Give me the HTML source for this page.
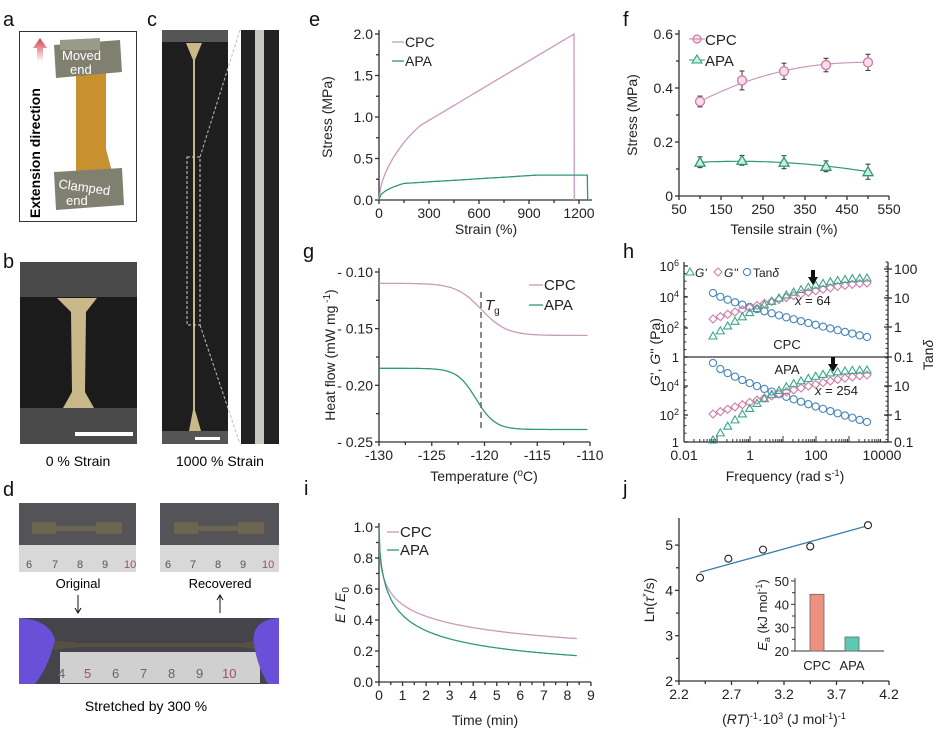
<!DOCTYPE html>
<html><head><meta charset="utf-8">
<style>
html,body{margin:0;padding:0;background:#fff;}
svg{display:block;font-family:"Liberation Sans",Arial,sans-serif;}
</style></head>
<body>
<svg id="s" width="944" height="732" viewBox="0 0 944 732" xmlns="http://www.w3.org/2000/svg">
<defs>
<linearGradient id="arr" x1="0" y1="1" x2="0" y2="0"><stop offset="0" stop-color="#fff"/><stop offset="1" stop-color="#d8404a"/></linearGradient>
<linearGradient id="bar" x1="0" y1="0" x2="1" y2="0"><stop offset="0" stop-color="#b8862a"/><stop offset="0.5" stop-color="#d9a040"/><stop offset="1" stop-color="#c08a30"/></linearGradient>
</defs>
<rect width="944" height="732" fill="#fff"/>
<g font-size="20" fill="#111">
<text x="3" y="26">a</text><text x="3" y="268">b</text><text x="147" y="26">c</text><text x="3" y="496">d</text>
<text x="309" y="26">e</text><text x="623" y="26">f</text><text x="303" y="258">g</text><text x="623" y="258">h</text>
<text x="304" y="495">i</text><text x="623" y="495">j</text>
</g>
<!-- panel a -->
<rect x="19.5" y="31.5" width="117" height="190" fill="#fff" stroke="#333"/>
<polygon points="40,38 47,48 43,48 43,62 37,62 37,48 33,48" fill="url(#arr)"/>
<text transform="translate(40,218) rotate(-90)" font-size="14" font-weight="bold">Extension direction</text>
<polygon points="78,72 104,172 112,172 86,72" fill="url(#bar)"/>
<rect x="76" y="72" width="30" height="110" fill="#c8902e"/>
<polygon points="54,45 120,40 122,72 56,78" fill="#808070"/>
<polygon points="60,40 100,38 100,50 60,50" fill="#9a9a88"/>
<polygon points="54,172 122,168 124,205 56,210" fill="#808070"/>
<text x="62" y="60" font-size="13" fill="#fff">Moved</text><text x="70" y="74" font-size="13" fill="#fff">end</text>
<text x="58" y="188" font-size="13" fill="#fff" transform="rotate(8 58 188)">Clamped</text><text x="66" y="205" font-size="13" fill="#fff">end</text>
<!-- panel b -->
<rect x="20" y="262" width="117" height="182" fill="#4a4a4a"/>
<rect x="20" y="297" width="117" height="111" fill="#1b1b1b"/>
<path d="M57,298 L97,298 L86,312 L85,392 L94,408 L63,408 L72,392 L71,312 Z" fill="#c8b88a"/>
<rect x="75" y="432" width="58" height="4" fill="#fff"/>
<text x="78" y="466" font-size="14" text-anchor="middle">0 % Strain</text>
<!-- panel c -->
<rect x="162" y="30" width="66" height="414" fill="#1e1e1e"/>
<rect x="162" y="30" width="66" height="12" fill="#555"/>
<rect x="162" y="431" width="66" height="13" fill="#555"/>
<path d="M186,43 L202,43 L195,60 L195,410 L201,431 L189,431 L193,410 L193,60 Z" fill="#c8b88a"/>
<rect x="187" y="157" width="13" height="168" fill="none" stroke="#ccc" stroke-dasharray="3,2"/>
<line x1="200" y1="157" x2="240" y2="30" stroke="#bbb" stroke-dasharray="3,2"/>
<line x1="200" y1="325" x2="240" y2="444" stroke="#bbb" stroke-dasharray="3,2"/>
<rect x="195" y="437" width="25" height="3" fill="#fff"/>
<rect x="241" y="30" width="38" height="414" fill="#222"/>
<rect x="255" y="30" width="9" height="414" fill="#c8c8c0"/>
<text x="220" y="466" font-size="14" text-anchor="middle">1000 % Strain</text>
<!-- panel d -->
<rect x="19" y="503" width="117" height="42" fill="#545458"/><rect x="19" y="545" width="117" height="27" fill="#d8d8d8"/>
<rect x="32" y="522" width="24" height="12" fill="#6b6550"/><rect x="56" y="526" width="40" height="5" fill="#6b6550"/><rect x="96" y="522" width="26" height="12" fill="#6b6550"/>
<rect x="160" y="503" width="119" height="42" fill="#545458"/><rect x="160" y="545" width="119" height="27" fill="#d8d8d8"/>
<rect x="174" y="522" width="24" height="12" fill="#6b6550"/><rect x="198" y="526" width="40" height="5" fill="#6b6550"/><rect x="238" y="522" width="26" height="12" fill="#6b6550"/>
<g font-size="11" fill="#555"><text x="26" y="568">6</text><text x="52" y="568">7</text><text x="77" y="568">8</text><text x="102" y="568">9</text><text x="124" y="568" fill="#a05060">10</text>
<text x="165" y="568">6</text><text x="190" y="568">7</text><text x="215" y="568">8</text><text x="240" y="568">9</text><text x="262" y="568" fill="#a05060">10</text></g>
<text x="78" y="588" font-size="13" text-anchor="middle">Original</text>
<text x="220" y="588" font-size="13" text-anchor="middle">Recovered</text>
<line x1="78" y1="595" x2="78" y2="612" stroke="#111"/><polyline points="75,608 78,613 81,608" fill="none" stroke="#111"/>
<line x1="220" y1="596" x2="220" y2="613" stroke="#111"/><polyline points="217,600 220,595 223,600" fill="none" stroke="#111"/>
<rect x="19" y="618" width="260" height="66" fill="#44444a"/>
<rect x="60" y="652" width="200" height="31" fill="#d0d0d0"/>
<path d="M50,640 L80,643 L240,643 L265,640 L265,650 L240,647 L80,647 L50,650 Z" fill="#555040"/>
<path d="M19,618 Q50,620 55,640 Q48,668 35,684 L19,684 Z" fill="#6a4fd8"/>
<path d="M279,618 Q250,620 254,645 Q258,668 268,684 L279,684 Z" fill="#6a4fd8"/>
<g font-size="13" fill="#666"><text x="58" y="678">4</text><text x="84" y="678" fill="#a05060">5</text><text x="112" y="678">6</text><text x="140" y="678">7</text><text x="168" y="678">8</text><text x="196" y="678">9</text><text x="222" y="678" fill="#a05060">10</text></g>
<text x="146" y="711" font-size="14" text-anchor="middle">Stretched by 300 %</text>
<g id="plots" font-size="14" fill="#222"></g>
</svg>
<script>
const g=document.getElementById('plots');let h='';
const L=(pts,c,w=1.2,extra='')=>`<polyline points="${pts.map(p=>p[0].toFixed(1)+','+p[1].toFixed(1)).join(' ')}" fill="none" stroke="${c}" stroke-width="${w}" ${extra}/>`;
const T=(x,y,s,a='middle',sz=14,ex='')=>`<text x="${x}" y="${y}" text-anchor="${a}" font-size="${sz}" ${ex}>${s}</text>`;
const ln=(a,b,c,d,col='#333',w=1.3)=>`<line x1="${a}" y1="${b}" x2="${c}" y2="${d}" stroke="${col}" stroke-width="${w}"/>`;
const PINK='#c99abd',GRN='#2f9977';
function axes(x0,x1,y0,y1,xt,yt,minorX,minorY){
  h+=ln(x0,y1-4,x0,y0)+ln(x0,y0,x1,y0);
  xt.forEach(t=>{h+=ln(t[0],y0,t[0],y0+4);h+=T(t[0],y0+18,t[1]);});
  yt.forEach(t=>{h+=ln(x0-4,t[0],x0,t[0]);h+=T(x0-6,t[0]+5,t[1],'end');});
  (minorX||[]).forEach(x=>h+=ln(x,y0,x,y0+3));
  (minorY||[]).forEach(y=>h+=ln(x0-3,y,x0,y));
}
// ---- e
{const X=v=>379+v*200/1200,Y=v=>200-v*83;
axes(379,592,200,34,[0,300,600,900,1200].map(v=>[X(v),v]),[0,.5,1,1.5,2].map(v=>[Y(v),v.toFixed(1)]),[150,450,750,1050].map(X),[.25,.75,1.25,1.75].map(Y));
h+=T(486,234,'Strain (%)');h+=`<text transform="translate(332,117) rotate(-90)" text-anchor="middle">Stress (MPa)</text>`;
let c=[],a=[];for(let s=0;s<=1170;s+=10){let v=s<250?0.9*Math.pow(s/250,0.55)*(1+0.08*(1-s/250)*s/250):0.9+(s-250)*1.1/920;c.push([X(s),Y(v)]);}
c.push([X(1172),Y(0)]);
for(let s=0;s<=1250;s+=10){let v=s<150?0.2*Math.pow(s/150,0.45):0.2+(s-150)*0.1/800;if(v>0.3)v=0.3;a.push([X(s),Y(v)]);}a.push([X(1252),Y(0)]);
h+=L(c,PINK,1.3)+L(a,GRN,1.3);
h+=ln(392,42,404,42,PINK)+T(405,47,'CPC','start')+ln(392,61,404,61,GRN)+T(405,66,'APA','start');}
// ---- f
{const X=v=>679+(v-50)*0.42,Y=v=>196-v*270;
axes(679,889,196,34,[50,150,250,350,450,550].map(v=>[X(v),v]),[[Y(0),'0'],[Y(.2),'0.2'],[Y(.4),'0.4'],[Y(.6),'0.6']],[100,200,300,400,500].map(X),[.1,.3,.5].map(Y));
h+=T(784,234,'Tensile strain (%)');h+=`<text transform="translate(637,115) rotate(-90)" text-anchor="middle">Stress (MPa)</text>`;
const xs=[100,200,300,400,500],cp=[.35,.428,.462,.485,.495],ce=[.02,.035,.03,.025,.03],ap=[.125,.132,.125,.11,.09],ae=[.02,.018,.024,.02,.028];
let cc=[],aa=[];for(let v=100;v<=500;v+=5){let t=(v-100)/400;cc.push([X(v),Y(.35+.145*(1-Math.pow(1-t,2.2)))]);aa.push([X(v),Y(.125+.03*t-.065*t*t)]);}
h+=L(cc,PINK,1.2)+L(aa,GRN,1.2);
xs.forEach((x,i)=>{[[cp[i],ce[i]],[ap[i],ae[i]]].forEach(([v,e])=>{h+=ln(X(x),Y(v-e),X(x),Y(v+e),'#333',1)+ln(X(x)-2.5,Y(v-e),X(x)+2.5,Y(v-e),'#333',1)+ln(X(x)-2.5,Y(v+e),X(x)+2.5,Y(v+e),'#333',1);});
h+=`<circle cx="${X(x)}" cy="${Y(cp[i])}" r="4.5" fill="#f6dde8" stroke="#d07aa8" stroke-width="1.3"/>`;
let px=X(x),py=Y(ap[i]);h+=`<polygon points="${px},${py-5} ${px+5},${py+4} ${px-5},${py+4}" fill="#c8efe2" stroke="#2f9977" stroke-width="1.3"/>`;});
h+=`<circle cx="697" cy="39" r="4" fill="#f6dde8" stroke="#d07aa8" stroke-width="1.2"/>`+ln(689,39,705,39,'#d07aa8',1)+T(705,45,'CPC','start',15);
h+=ln(689,60,705,60,GRN,1)+`<polygon points="697,55 702,63 692,63" fill="#c8efe2" stroke="#2f9977"/>`+T(705,66,'APA','start',15);}
// ---- g
{const X=v=>379+(v+130)*10.55;
const Yg=v=>272+(-0.10-v)*1133;
axes(379,590,442,272,[-130,-125,-120,-115,-110].map(v=>[X(v),v]),[[Yg(-.10),'- 0.10'],[Yg(-.15),'- 0.15'],[Yg(-.20),'- 0.20'],[Yg(-.25),'- 0.25']],[-127.5,-122.5,-117.5,-112.5].map(X),[-.125,-.175,-.225].map(Yg));
h+=T(484,481,'Temperature (<tspan baseline-shift="super" font-size="10">o</tspan>C)');
h+=`<text transform="translate(335,355) rotate(-90)" text-anchor="middle">Heat flow (mW mg<tspan baseline-shift="super" font-size="10"> -1</tspan>)</text>`;
let c=[],a=[];for(let t=-130;t<=-110.01;t+=0.25){let s=1/(1+Math.exp(-(t+120.3)/1.2));c.push([X(t),Yg(-.11-.046*s)]);let s2=1/(1+Math.exp(-(t+120.8)/0.9));a.push([X(t),Yg(-.185-.054*s2)]);}
h+=L(c,PINK,1.3)+L(a,GRN,1.3);
h+=`<line x1="481" y1="292" x2="481" y2="432" stroke="#666" stroke-width="1.5" stroke-dasharray="6,4"/>`;
h+=`<text x="485" y="310" font-size="15" font-style="italic">T<tspan font-size="10" font-style="normal" dy="4">g</tspan></text>`;
h+=ln(529,285,543,285,PINK)+T(544,290,'CPC','start',15)+ln(529,305,543,305,GRN)+T(544,310,'APA','start',15);}
// ---- h
{const X=lf=>684+(lf+2)*33, x0=684,x1=888;
h+=ln(x0,262,x0,442)+ln(x0,442,x1,442)+ln(x1,262,x1,442)+ln(x0,357,x1,357);
[-2,0,2,4].forEach((d,i)=>{h+=T(X(d),460,['0.01','1','100','10000'][i]);});
for(let d=-2;d<4;d++)for(let k=1;k<10;k++){let x=X(d+Math.log10(k));h+=ln(x,442,x,k==1?436:439,'#333',1);}
const lt=[[266,'10','6'],[297,'10','4'],[328,'10','2'],[357,'1',''],[386,'10','4'],[415,'10','2'],[442,'1','']];
lt.forEach(([y,b,e])=>{h+=ln(x0,y,x0+4,y);h+=`<text x="${x0-5}" y="${y+5}" text-anchor="end" font-size="13">${b}<tspan baseline-shift="super" font-size="9">${e}</tspan></text>`;});
for(let y=266;y<440;y+=7.6)h+=ln(x0,y,x0+2.5,y,'#333',1);
const rt=[[269,'100'],[298,'10'],[327,'1'],[357,'0.1'],[386,'10'],[415,'1'],[442,'0.1']];
rt.forEach(([y,s])=>{h+=ln(x1-4,y,x1+4,y);h+=T(x1+6,y+5,s,'start');});
for(let y=262;y<442;y+=4.8)h+=ln(x1,y,x1-2.5,y,'#333',1);
h+=T(785,481,'Frequency (rad s<tspan baseline-shift="super" font-size="9">-1</tspan>)');
h+=`<text transform="translate(660,352) rotate(-90)" text-anchor="middle"><tspan font-style="italic">G</tspan>', <tspan font-style="italic">G</tspan>'' (Pa)</text>`;
h+=`<text transform="translate(933,355) rotate(-90)" text-anchor="middle">Tan<tspan font-style="italic">δ</tspan></text>`;
const N=22;const tri=(x,y)=>`<polygon points="${x},${y-4} ${x+4},${y+3} ${x-4},${y+3}" fill="none" stroke="#3aa58a" stroke-width="1.1"/>`;
const dia=(x,y)=>`<polygon points="${x},${y-4} ${x+4},${y} ${x},${y+4} ${x-4},${y}" fill="none" stroke="#d07aa8" stroke-width="1.1"/>`;
const cir=(x,y)=>`<circle cx="${x}" cy="${y}" r="3.6" fill="none" stroke="#4a86b8" stroke-width="1.1"/>`;
for(let i=0;i<N;i++){let t=i/(N-1),x=713+154*t;
h+=cir(x,293+44*Math.pow(t,0.8))+dia(x,319-36*(1-Math.pow(1-t,1.4)))+tri(x,336-58*(1-Math.pow(1-t,1.9)));
h+=cir(x,363+59*Math.pow(t,0.75))+dia(x,414-39*(1-Math.pow(1-t,1.3)))+tri(x,440-70*(1-Math.pow(1-t,2.2)));}
h+=tri(690,272)+`<text x="695" y="277" font-size="12" font-style="italic">G'</text>`+dia(718,272)+`<text x="724" y="277" font-size="12" font-style="italic">G''</text>`+cir(747,272)+`<text x="753" y="277" font-size="12">Tan<tspan font-style="italic">δ</tspan></text>`;
h+=`<polygon points="808,277 813,285 818,277 815,277 815,270 811,270 811,277" fill="#111"/>`;
h+=`<polygon points="828,364 833,372 838,364 835,364 835,357 831,357 831,364" fill="#111"/>`;
h+=`<text x="795" y="305" font-size="13"><tspan font-style="italic">x</tspan> = 64</text>`;
h+=`<text x="815" y="395" font-size="13"><tspan font-style="italic">x</tspan> = 254</text>`;
h+=T(787,349,'CPC','middle',13)+T(787,374,'APA','middle',13);}
// ---- i
{const X=v=>379+v*23.55,Y=v=>682-v*155;
axes(379,591,682,527,[0,1,2,3,4,5,6,7,8,9].map(v=>[X(v),v]),[0,.2,.4,.6,.8,1].map(v=>[Y(v),v.toFixed(1)]),[.5,1.5,2.5,3.5,4.5,5.5,6.5,7.5,8.5].map(X),[.1,.3,.5,.7,.9].map(Y));
h+=T(485,725,'Time (min)');
h+=`<text transform="translate(345,605) rotate(-90)" text-anchor="middle" font-style="italic">E<tspan font-style="normal"> / </tspan>E<tspan font-size="10" dy="4" font-style="normal">0</tspan></text>`;
let c=[],a=[];for(let t=0;t<=8.4;t+=0.04){c.push([X(t),Y(1/(1+Math.pow(t/1.0,0.444)))]);a.push([X(t),Y(1/(1+Math.pow(t/0.636,0.614)))]);}
h+=L(c,PINK,1.3)+L(a,GRN,1.3);
h+=ln(387,532,399,532,PINK)+T(400,537,'CPC','start',15)+ln(387,550,399,550,GRN)+T(400,555,'APA','start',15);}
// ---- j
{const X=v=>679+(v-2.2)*105,Y=v=>681-(v-2)*45.3;
axes(679,889,681,522,[2.2,2.7,3.2,3.7,4.2].map(v=>[X(v),v]),[2,3,4,5].map(v=>[Y(v),v]),[2.45,2.95,3.45,3.95].map(X),[2.5,3.5,4.5].map(Y));
h+=T(784,724,'(<tspan font-style="italic">RT</tspan>)<tspan baseline-shift="super" font-size="9">-1</tspan>·10<tspan baseline-shift="super" font-size="9">3</tspan> (J mol<tspan baseline-shift="super" font-size="9">-1</tspan>)<tspan baseline-shift="super" font-size="9">-1</tspan>');
h+=`<text transform="translate(654,600) rotate(-90)" text-anchor="middle">Ln(<tspan font-style="italic">τ</tspan><tspan baseline-shift="super" font-size="9">*</tspan>/s)</text>`;
h+=ln(X(2.4),Y(4.4),X(4.0),Y(5.43),'#3a7fa8',1.3);
[[2.4,4.28],[2.67,4.7],[3.0,4.9],[3.45,4.97],[4.0,5.44]].forEach(p=>h+=`<circle cx="${X(p[0])}" cy="${Y(p[1])}" r="3.5" fill="#fff" stroke="#222" stroke-width="1.1"/>`);
const Yi=v=>651-(v-20)*70/30;
h+=ln(795,578,795,651,'#333',1)+ln(795,651,884,651,'#333',1);
[20,30,40,50].forEach(v=>{h+=ln(791,Yi(v),795,Yi(v),'#333',1)+T(789,Yi(v)+5,v,'end',13);});
[25,35,45].forEach(v=>h+=ln(792,Yi(v),795,Yi(v),'#333',1));
h+=`<rect x="810" y="${Yi(44.3)}" width="14" height="${651-Yi(44.3)}" fill="#f0907e" stroke="#666" stroke-width="0.8"/>`;
h+=`<rect x="845" y="${Yi(26)}" width="14" height="${651-Yi(26)}" fill="#5ccab2" stroke="#666" stroke-width="0.8"/>`;
h+=T(817,670,'CPC','middle',13)+T(852,670,'APA','middle',13);
h+=`<text transform="translate(767,615) rotate(-90)" text-anchor="middle" font-size="13"><tspan font-style="italic">E</tspan><tspan font-size="9" dy="3">a</tspan><tspan dy="-3"> (kJ mol</tspan><tspan baseline-shift="super" font-size="9">-1</tspan>)</text>`;}
g.innerHTML=h;
</script>
</body></html>
